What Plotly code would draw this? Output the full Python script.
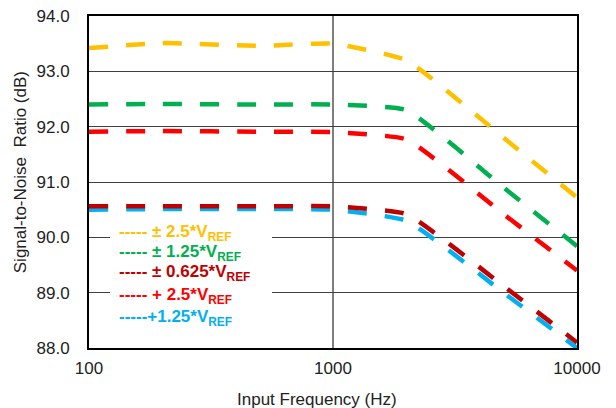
import plotly.graph_objects as go

# frequências (Hz) e SNR (dB)
freq = [100, 200, 500, 1000, 2000, 5000, 10000]
snr_pm25 = [93.42, 93.51, 93.46, 93.50, 93.20, 91.80, 90.72]
snr_pm125 = [92.40, 92.41, 92.40, 92.40, 92.30, 90.90, 89.84]
snr_pm0625 = [90.56, 90.56, 90.56, 90.56, 90.42, 89.12, 88.10]
snr_p25 = [91.91, 91.92, 91.91, 91.90, 91.77, 90.42, 89.40]
snr_p125 = [90.50, 90.51, 90.51, 90.50, 90.30, 89.00, 88.00]

nomes = ['± 2.5*V<sub>REF</sub>', '± 1.25*V<sub>REF</sub>', '± 0.625*V<sub>REF</sub>',
         '+ 2.5*V<sub>REF</sub>', '+1.25*V<sub>REF</sub>']
cores = ['#FFC000', '#00B050', '#C00000', '#FF0000', '#00B0F0']
series = [snr_pm25, snr_pm125, snr_pm0625, snr_p25, snr_p125]

xticks = [100, 1000, 10000]
yticks = [88, 89, 90, 91, 92, 93, 94]

fig = go.Figure()

# ordem de desenho: azul por baixo do vermelho escuro
for i in [0, 1, 3, 4, 2]:
    fig.add_trace(go.Scatter(x=freq, y=series[i], mode='lines', name=nomes[i], showlegend=False,
                             line=dict(color=cores[i], width=4.5, dash='19px,18px', shape='spline', smoothing=0.4)))

# a página tem 8px de margem no body, por isso 608x400
fig.update_layout(
    width=608, height=400,
    margin=dict(l=81, r=39, t=8, b=60),
    plot_bgcolor='white', paper_bgcolor='white',
    font=dict(family='Liberation Sans, Arial', size=16, color='#222'),
)
fig.update_xaxes(type='log', range=[2, 4], tickvals=xticks, ticktext=[str(v) for v in xticks],
                 showgrid=True, gridcolor='#7f7f7f', gridwidth=1.5, automargin=False,
                 showline=True, linecolor='black', linewidth=2, mirror=True, ticks='',
                 ticklabelstandoff=4, ticklabeloverflow='allow', tickfont=dict(size=17))
fig.update_yaxes(range=[88, 94], tickvals=yticks, tickformat='.1f', automargin=False,
                 showgrid=True, gridcolor='#404040', gridwidth=1,
                 showline=True, linecolor='black', linewidth=2, mirror=True, ticks='',
                 ticklabelstandoff=14, ticklabeloverflow='allow', zeroline=False, tickfont=dict(size=17))

# títulos dos eixos
fig.add_annotation(xref='paper', yref='paper', x=0.467, y=-0.154, text='Input Frequency (Hz)',
                   showarrow=False, font=dict(size=17), xanchor='center', yanchor='middle')
fig.add_annotation(xref='paper', yref='paper', x=-0.141, y=0.53, text='Signal-to-Noise  Ratio (dB)',
                   showarrow=False, font=dict(size=17), textangle=-90, xanchor='center', yanchor='middle')

# caixa branca da legenda
fig.add_shape(type='rect', xref='paper', yref='paper', x0=0.043, x1=0.375, y0=0.04, y1=0.37,
              fillcolor='white', line=dict(width=0), layer='above')

ys = [0.345, 0.285, 0.225, 0.157, 0.09]
for nome, cor, yy in zip(nomes, cores, ys):
    sep = '' if nome.startswith('+1') else ' '
    fig.add_annotation(xref='paper', yref='paper', x=0.058, y=yy, xanchor='left', yanchor='middle',
                       text=f'<b>-----{sep}{nome}</b>', showarrow=False,
                       font=dict(size=17, color=cor, family='Liberation Sans, Arial'))

fig.write_html('out.html')
